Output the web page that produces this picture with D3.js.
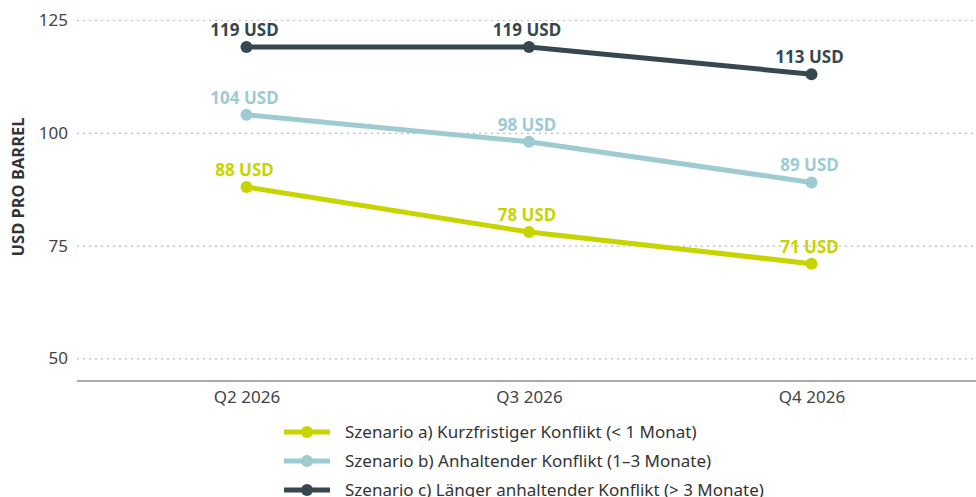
<!DOCTYPE html>
<html>
<head>
<meta charset="utf-8">
<script src="https://cdn.jsdelivr.net/npm/d3@7"></script>
<style>
  body { margin: 0; background: #fff; }
  svg { font-family: "Noto Sans", "Open Sans", sans-serif; }
</style>
</head>
<body>
<div class="main"></div>
<script>
// Daten
var quarters = ['Q2 2026', 'Q3 2026', 'Q4 2026'];
var szenarioA = [88, 78, 71];
var szenarioB = [104, 98, 89];
var szenarioC = [119, 119, 113];
var yTicks = [50, 75, 100, 125];
var legendLabels = [
    'Szenario a) Kurzfristiger Konflikt (< 1 Monat)',
    'Szenario b) Anhaltender Konflikt (1\u20133 Monate)',
    'Szenario c) L\u00e4nger anhaltender Konflikt (> 3 Monate)'
];
var colors = ['#c8d400', '#9ecbd2', '#37474f'];

var width = 976, height = 497;
var plotLeft = 77, plotTop = 20, plotBottom = 381;

var series = [szenarioA, szenarioB, szenarioC];

var svg = d3.select('.main').append('svg')
    .attr('width', width)
    .attr('height', height);

// Skalen
var x = d3.scalePoint().domain(quarters).range([plotLeft, 981]).padding(0.6);
var y = d3.scaleLinear().domain([45, 125]).range([plotBottom, plotTop]);

// Y-Achse mit gepunkteten Gitterlinien
var yAxis = svg.append('g')
    .attr('transform', 'translate(' + plotLeft + ',0)')
    .call(d3.axisLeft(y).tickValues(yTicks).tickSize(-(width - plotLeft)).tickPadding(9));
yAxis.select('.domain').remove();
yAxis.selectAll('.tick line')
    .attr('stroke', '#bbb')
    .attr('stroke-width', 1.2)
    .attr('stroke-dasharray', '2,4');
yAxis.selectAll('.tick text')
    .attr('fill', '#444')
    .attr('font-size', 17)
    .attr('font-family', '"Noto Sans", sans-serif');

// X-Achse
var xAxis = svg.append('g')
    .attr('transform', 'translate(0,' + plotBottom + ')')
    .call(d3.axisBottom(x).tickSize(0).tickPadding(10));
xAxis.select('.domain')
    .attr('d', 'M' + plotLeft + ',0H' + width)
    .attr('stroke', '#555')
    .attr('stroke-width', 1.2);
xAxis.selectAll('.tick text')
    .attr('fill', '#444')
    .attr('font-size', 17)
    .attr('font-family', '"Noto Sans", sans-serif');

// Achsentitel
svg.append('text')
    .attr('transform', 'translate(24,187) rotate(-90)')
    .attr('text-anchor', 'middle')
    .attr('font-size', 16.5)
    .attr('font-weight', 'bold')
    .attr('fill', '#333')
    .text('USD PRO BARREL');

// Linien, Punkte, Beschriftungen
var line = d3.line().x((d, i) => x(quarters[i])).y(d => y(d));

series.forEach(function(s, k) {
    var g = svg.append('g');
    g.append('path')
        .attr('d', line(s))
        .attr('fill', 'none')
        .attr('stroke', colors[k])
        .attr('stroke-width', 5);
    g.selectAll('circle').data(s).enter().append('circle')
        .attr('cx', (d, i) => x(quarters[i]))
        .attr('cy', d => y(d))
        .attr('r', 6)
        .attr('fill', colors[k]);
    g.selectAll('text').data(s).enter().append('text')
        .attr('x', (d, i) => x(quarters[i]) - 2)
        .attr('y', d => y(d) - 11)
        .attr('text-anchor', 'middle')
        .attr('font-size', 17)
        .attr('font-weight', 'bold')
        .attr('fill', colors[k])
        .text(d => d + ' USD');
});

// Legende
var legend = svg.append('g');
legendLabels.forEach(function(label, k) {
    var ly = 432 + k * 29;
    legend.append('line')
        .attr('x1', 284).attr('x2', 330)
        .attr('y1', ly).attr('y2', ly)
        .attr('stroke', colors[k])
        .attr('stroke-width', 5);
    legend.append('circle')
        .attr('cx', 307).attr('cy', ly).attr('r', 6)
        .attr('fill', colors[k]);
    legend.append('text')
        .attr('x', 345).attr('y', ly + 6)
        .attr('font-size', 17)
        .attr('fill', '#333')
        .text(label);
});
</script>
</body>
</html>
